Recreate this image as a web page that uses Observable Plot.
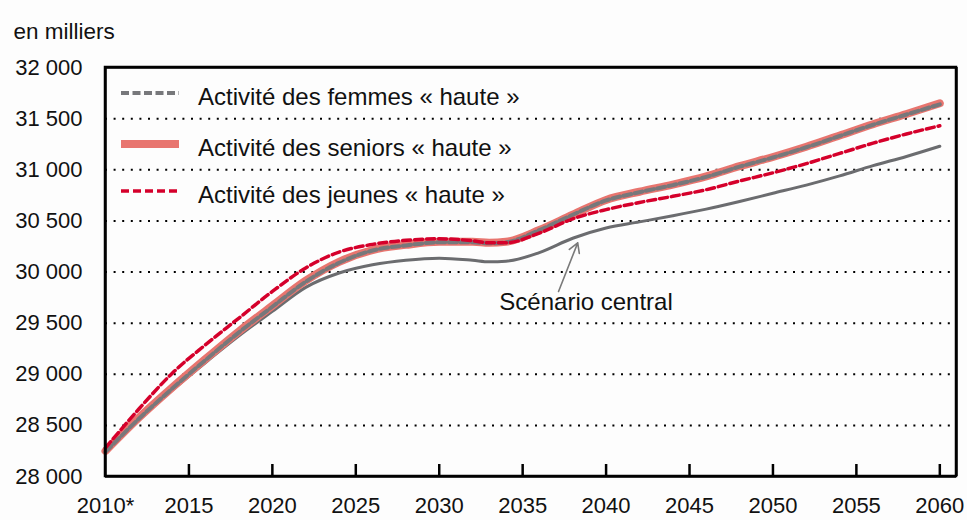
<!DOCTYPE html>
<html>
<head>
<meta charset="utf-8">
<script src="https://cdn.jsdelivr.net/npm/d3@7"></script>
<script src="https://cdn.jsdelivr.net/npm/@observablehq/plot@0.6"></script>
<style>
  body { margin: 0; background: #fdfdfd; font-family: "Liberation Sans", Arial, sans-serif; }
  #wrap { position: relative; width: 967px; height: 520px; }
</style>
</head>
<body>
<div id="wrap"></div>
<script>
// ---- data (thousands of active persons) ----
const years   = [2010,2012,2014,2016,2018,2020,2022,2024,2026,2028,2030,2032,2033,2034,2036,2038,2040,2042,2044,2046,2048,2050,2052,2054,2056,2058,2060];
const central = [28250,28560,28845,29115,29375,29615,29850,29990,30070,30115,30135,30115,30100,30105,30190,30330,30430,30490,30550,30615,30690,30770,30850,30940,31040,31130,31230];
const femmes  = [28240,28565,28860,29140,29410,29660,29905,30090,30210,30260,30290,30290,30280,30290,30410,30560,30700,30780,30850,30930,31030,31120,31220,31330,31440,31540,31640];
const seniors = [28250,28575,28870,29150,29420,29670,29915,30100,30215,30265,30295,30295,30285,30295,30410,30560,30705,30785,30855,30935,31035,31125,31225,31335,31445,31545,31650];
const jeunes  = [28280,28660,29010,29290,29550,29810,30040,30195,30270,30310,30325,30305,30285,30285,30380,30520,30610,30680,30740,30805,30890,30970,31060,31160,31260,31350,31430];

const xTickLabels = [2010,2015,2020,2025,2030,2035,2040,2045,2050,2055,2060];
const xInnerTicks = [2015,2020,2025,2030,2035,2040,2045,2050,2055,2060];
const yTickLabels = [28000,28500,29000,29500,30000,30500,31000,31500,32000];
const yGrid = [28500,29000,29500,30000,30500,31000,31500];
const xDomain = [2010, 2061];
const yDomain = [28000, 32000];

const unitLabel = "en milliers";
const legendLabels = ["Activité des femmes « haute »","Activité des seniors « haute »","Activité des jeunes « haute »"];
const annotationText = "Scénario central";
const annotationPos = {x: 2038.8, y: 29700};
const arrowFrom = {x: 2037.15, y: 29810};
const arrowTo = {x: 2038.3, y: 30285};

const colors = {central: "#6b6c6f", femmes: "#77787b", seniors: "#e8756f", jeunes: "#d5002b"};

const table = (vals) => years.map((yr, i) => ({year: yr, value: vals[i]}));
const fmt = n => `${Math.floor(n / 1000)} ${String(n % 1000).padStart(3, "0")}`;
const FONT = "'Liberation Sans', Arial, sans-serif";

const chart = Plot.plot({
  width: 967,
  height: 520,
  marginTop: 67,
  marginBottom: 44,
  marginLeft: 105,
  marginRight: 11,
  style: {fontFamily: FONT, background: "#fdfdfd", color: "#111"},
  x: {domain: xDomain},
  y: {domain: yDomain},
  marks: [
    Plot.gridY(yGrid, {stroke: "#000", strokeOpacity: 1, strokeWidth: 2, strokeDasharray: "2,6.6"}),
    Plot.axisY(yTickLabels, {tickSize: 0, tickPadding: 23, tickFormat: fmt, fontSize: 22}),
    Plot.axisX(xTickLabels, {tickSize: 0, tickPadding: 21, fontSize: 22, tickFormat: d => d === 2010 ? "2010*" : String(d)}),
    Plot.tickX(xInnerTicks, {x: d => d, stroke: "#000", strokeWidth: 2.5, insetTop: 397}),
    Plot.line(table(central), {x: "year", y: "value", stroke: colors.central, strokeWidth: 3, curve: "monotone-x"}),
    Plot.line(table(seniors), {x: "year", y: "value", stroke: colors.seniors, strokeWidth: 8, curve: "monotone-x"}),
    Plot.line(table(femmes), {x: "year", y: "value", stroke: colors.femmes, strokeWidth: 4, strokeDasharray: "8,3.5", curve: "monotone-x"}),
    Plot.line(table(jeunes), {x: "year", y: "value", stroke: colors.jeunes, strokeWidth: 3.5, strokeDasharray: "8,4", curve: "monotone-x"}),
    Plot.arrow([{x1: arrowFrom.x, y1: arrowFrom.y, x2: arrowTo.x, y2: arrowTo.y}], {x1: "x1", y1: "y1", x2: "x2", y2: "y2", stroke: "#7a7a7a", strokeWidth: 1.6, headLength: 10}),
    Plot.text([annotationText], {x: annotationPos.x, y: annotationPos.y, text: d => d, fontSize: 24, fill: "#111"}),
    Plot.ruleY(yDomain, {stroke: "#000", strokeWidth: 2.5}),
    Plot.ruleX(xDomain, {stroke: "#000", strokeWidth: 2.5}),
    Plot.text([unitLabel], {frameAnchor: "top-left", dx: -92, dy: -44, text: d => d, fontSize: 22.5, fill: "#111", textAnchor: "start"})
  ]
});
document.getElementById("wrap").appendChild(chart);

// ---- frame via the chart's own scales ----
const sx = chart.scale("x"), sy = chart.scale("y");
const fx0 = sx.apply(xDomain[0]), fx1 = sx.apply(xDomain[1]);
const fy0 = sy.apply(yDomain[1]), fy1 = sy.apply(yDomain[0]);
d3.select(chart).append("rect")
  .attr("x", fx0).attr("y", fy0).attr("width", fx1 - fx0).attr("height", fy1 - fy0)
  .attr("fill", "none").attr("stroke", "#000").attr("stroke-width", 2.5);

// ---- legend drawn inside the chart svg ----
const leg = d3.select(chart).append("g").attr("font-family", FONT).attr("text-anchor", "start");
const rows = [
  {label: legendLabels[0], stroke: colors.femmes, width: 4, dash: "8,3.5"},
  {label: legendLabels[1], stroke: colors.seniors, width: 8, dash: null},
  {label: legendLabels[2], stroke: colors.jeunes, width: 3.5, dash: "8,4"}
];
const rowY = [93, 144, 191];
rows.forEach((r, i) => {
  leg.append("line").attr("x1", 121).attr("x2", 179).attr("y1", rowY[i]).attr("y2", rowY[i])
    .attr("stroke", r.stroke).attr("stroke-width", r.width).attr("stroke-dasharray", r.dash);
  leg.append("text").attr("x", 198).attr("y", rowY[i] + 4).attr("dy", "0.35em")
    .attr("font-size", 24).attr("fill", "#111").text(r.label);
});
</script>
</body>
</html>
